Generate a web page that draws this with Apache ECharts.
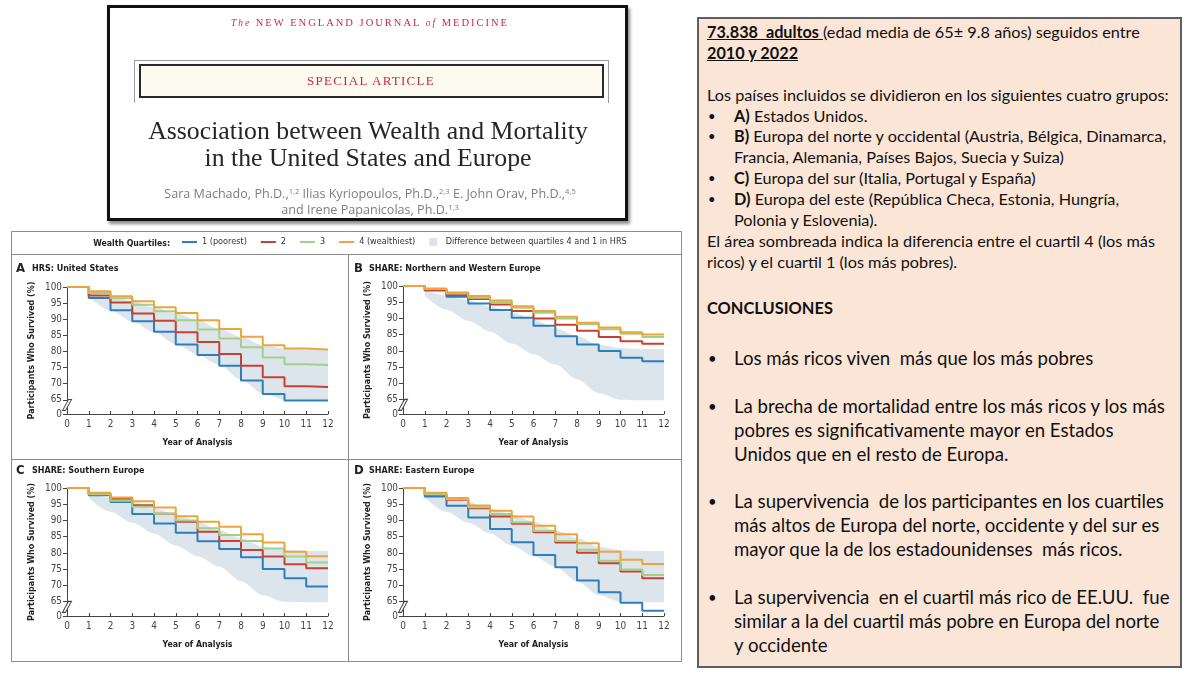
<!DOCTYPE html>
<html lang="es">
<head>
<meta charset="utf-8">
<title>Association between Wealth and Mortality</title>
<script src="https://cdn.jsdelivr.net/npm/echarts@6.0.0/dist/echarts.min.js"></script>
<style>
  html, body { margin:0; padding:0; background:#fff; }
  #page { position:relative; width:1200px; height:675px; overflow:hidden; background:#fff; }
  #chart { position:absolute; left:0; top:0; width:1200px; height:675px; }
  .abs { position:absolute; white-space:pre; }
  .c { transform: translateX(-50%); }
  #nejm { position:absolute; left:107px; top:5px; width:521px; height:216px; box-sizing:border-box; border:3px solid #111; background:#fff; box-shadow: 2px 3px 3px rgba(0,0,0,0.45); }
  #bracket { position:absolute; left:134px; top:60px; width:475px; height:43px; box-sizing:border-box; border:1px solid #9c9c9c; border-bottom:none; }
  #inner { position:absolute; left:139px; top:64px; width:465px; height:34px; box-sizing:border-box; border:2px solid #2a2a2a; background:#fdfbef; }
  .serif { font-family: 'Liberation Serif', 'DejaVu Serif', serif; }
  .red { color:#c92a40; }
  .auth { font-family: 'Open Sans', Lato, sans-serif; color:#7d7d7d; line-height:16px; }
  .auth sup { font-size:0.6em; vertical-align:0.55em; line-height:0; }
  #notes { position:absolute; left:697px; top:17px; width:485px; height:651px; box-sizing:border-box; border:2px solid #5f5f5f; background:#fbe5d6; }
  .n { font-family: Lato, 'Open Sans', sans-serif; color:#111; line-height:20px; height:20px; font-size:16px; }
  .k { font-family: Lato, 'Open Sans', sans-serif; color:#111; line-height:24px; height:24px; font-size:18px; }
  b { font-weight:700; }
</style>
</head>
<body>
<div id="page">
  <div id="chart"></div>

  <!-- journal header -->
  <div id="nejm"></div>
  <div id="bracket"></div>
  <div id="inner"></div>
  <div class="abs c serif red" id="mast" style="left:370px;top:15px;line-height:16px;font-size:10.5px"><i style="font-size:0.9em">The</i> NEW ENGLAND JOURNAL <i style="font-size:0.9em">of</i> MEDICINE</div>
  <div class="abs c serif red" id="special" style="left:371px;top:72px;line-height:18px;font-size:13px">SPECIAL ARTICLE</div>
  <div class="abs c serif" id="t1" style="left:368px;top:118px;line-height:26px;color:#262626">Association between Wealth and Mortality</div>
  <div class="abs c serif" id="t2" style="left:368px;top:145px;line-height:26px;color:#262626">in the United States and Europe</div>
  <div class="abs c auth" id="a1" style="left:370px;top:186px">Sara Machado, Ph.D.,<sup>1,2</sup> Ilias Kyriopoulos, Ph.D.,<sup>2,3</sup> E. John Orav, Ph.D.,<sup>4,5</sup></div>
  <div class="abs c auth" id="a2" style="left:370px;top:202px">and Irene Papanicolas, Ph.D.<sup>1,3</sup></div>

  <!-- notes box -->
  <div id="notes"></div>
  <div class="abs n" style="left:707px;top:21.5px"><u><b>73.838  adultos </b></u>(edad media de 65± 9.8 años) seguidos entre</div>
  <div class="abs n" style="left:707px;top:42.7px"><u><b>2010 y 2022</b></u></div>
  <div class="abs n" id="ref1" style="left:707px;top:85px">Los países incluidos se dividieron en los siguientes cuatro grupos:</div>
  <div class="abs n bul" style="left:708px;top:105.7px">•</div>
  <div class="abs n" style="left:734px;top:105.7px"><b>A)</b> Estados Unidos.</div>
  <div class="abs n bul" style="left:708px;top:126px">•</div>
  <div class="abs n" style="left:734px;top:126px"><b>B)</b> Europa del norte y occidental (Austria, Bélgica, Dinamarca,</div>
  <div class="abs n" style="left:734px;top:146.7px">Francia, Alemania, Países Bajos, Suecia y Suiza)</div>
  <div class="abs n bul" style="left:708px;top:168.3px">•</div>
  <div class="abs n" style="left:734px;top:168.3px"><b>C)</b> Europa del sur (Italia, Portugal y España)</div>
  <div class="abs n bul" style="left:708px;top:189.3px">•</div>
  <div class="abs n" style="left:734px;top:189.3px"><b>D)</b> Europa del este (República Checa, Estonia, Hungría,</div>
  <div class="abs n" style="left:734px;top:210px">Polonia y Eslovenia).</div>
  <div class="abs n" style="left:707px;top:230.7px">El área sombreada indica la diferencia entre el cuartil 4 (los más</div>
  <div class="abs n" style="left:707px;top:252.3px">ricos) y el cuartil 1 (los más pobres).</div>

  <div class="abs k" id="concl" style="left:707px;top:296.3px"><b>CONCLUSIONES</b></div>
  <div class="abs k bul" style="left:708px;top:346px">•</div>
  <div class="abs k" style="left:734px;top:346px">Los más ricos viven  más que los más pobres</div>
  <div class="abs k bul" style="left:708px;top:393.5px">•</div>
  <div class="abs k" id="ref2" style="left:734px;top:393.5px">La brecha de mortalidad entre los más ricos y los más</div>
  <div class="abs k" style="left:734px;top:417.5px">pobres es significativamente mayor en Estados</div>
  <div class="abs k" style="left:734px;top:441.5px">Unidos que en el resto de Europa.</div>
  <div class="abs k bul" style="left:708px;top:489px">•</div>
  <div class="abs k" style="left:734px;top:489px">La supervivencia  de los participantes en los cuartiles</div>
  <div class="abs k" style="left:734px;top:513px">más altos de Europa del norte, occidente y del sur es</div>
  <div class="abs k" style="left:734px;top:537px">mayor que la de los estadounidenses  más ricos.</div>
  <div class="abs k bul" style="left:708px;top:585px">•</div>
  <div class="abs k" style="left:734px;top:585px">La supervivencia  en el cuartil más rico de EE.UU.  fue</div>
  <div class="abs k" style="left:734px;top:609px">similar a la del cuartil más pobre en Europa del norte</div>
  <div class="abs k" style="left:734px;top:633px">y occidente</div>
</div>

<script>
// ---------------- DATA ----------------
const years = [0, 1, 2, 3, 4, 5, 6, 7, 8, 9, 10, 11, 12];
const yTickValues = [65, 70, 75, 80, 85, 90, 95, 100];
const yBreakLabel = '0';
const quartileNames = ['1 (poorest)', '2', '3', '4 (wealthiest)'];
const bandName = 'Difference between quartiles 4 and 1 in HRS';
const panelLetters = ['A', 'B', 'C', 'D'];
const panelTitles = ['HRS: United States', 'SHARE: Northern and Western Europe', 'SHARE: Southern Europe', 'SHARE: Eastern Europe'];

// A  HRS: United States (survival %, value held from each year to the next)
const usQ1 = [100, 96.6, 92.8, 89.4, 86.1, 82.2, 78.9, 75.6, 71.0, 66.8, 64.8, 64.8, 64.8];
const usQ2 = [100, 97.4, 95.2, 91.8, 89.5, 86.0, 82.9, 79.2, 75.6, 72.0, 69.2, 69.0, 69.0];
const usQ3 = [100, 98.1, 96.5, 94.5, 92.5, 89.7, 86.8, 84.0, 81.3, 78.1, 76.0, 75.8, 75.8];
const usQ4 = [100, 98.7, 97.1, 95.6, 93.7, 91.9, 89.7, 87.0, 84.6, 81.9, 80.9, 80.6, 80.6];
// B  SHARE: Northern and Western Europe
const nwQ1 = [100, 98.6, 96.7, 94.6, 92.6, 90.2, 87.8, 84.5, 82.0, 80.0, 77.9, 76.8, 76.8];
const nwQ2 = [100, 98.8, 97.2, 96.0, 94.3, 92.3, 90.0, 88.1, 86.2, 84.3, 83.0, 82.2, 82.2];
const nwQ3 = [100, 99.1, 97.7, 96.4, 95.0, 93.3, 91.8, 90.0, 88.2, 86.7, 85.3, 84.3, 84.3];
const nwQ4 = [100, 99.2, 98.0, 96.9, 95.5, 93.8, 92.3, 90.5, 88.7, 87.2, 85.8, 85.1, 85.1];
// C  SHARE: Southern Europe
const sQ1 = [100, 97.8, 95.7, 92.0, 89.1, 86.2, 83.6, 81.2, 78.7, 75.1, 72.2, 69.7, 69.7];
const sQ2 = [100, 98.0, 96.7, 94.7, 92.1, 89.6, 86.5, 83.7, 80.9, 78.9, 76.5, 75.3, 75.3];
const sQ3 = [100, 98.1, 96.1, 94.2, 92.1, 90.0, 87.6, 85.5, 83.7, 81.4, 78.9, 77.1, 77.1];
const sQ4 = [100, 98.5, 97.1, 95.9, 94.0, 91.3, 89.6, 88.1, 85.8, 83.2, 80.4, 79.0, 79.0];
// D  SHARE: Eastern Europe
const eQ1 = [100, 97.4, 94.5, 90.9, 87.4, 83.3, 79.4, 75.6, 71.5, 67.9, 64.7, 62.2, 62.2];
const eQ2 = [100, 97.9, 96.4, 93.8, 91.2, 89.0, 86.4, 83.2, 80.1, 76.8, 74.3, 72.2, 72.2];
const eQ3 = [100, 98.1, 96.6, 94.1, 92.0, 89.4, 86.8, 83.7, 81.0, 77.6, 74.9, 73.2, 73.2];
const eQ4 = [100, 98.5, 96.9, 94.6, 93.0, 91.2, 88.4, 85.8, 83.0, 80.4, 77.9, 76.6, 76.6];
// shaded HRS band (quartile 1 to quartile 4, United States), shown in every panel
const bandYears = [1, 2, 3, 4, 5, 6, 7, 8, 9, 10, 11, 12];
const hrsBandLow = [97.0, 92.7, 89.3, 86.0, 82.3, 79.0, 75.8, 71.3, 67.0, 65.0, 64.8, 64.8];
const hrsBandHigh = [98.7, 97.1, 95.6, 93.7, 91.9, 89.7, 87.0, 84.6, 81.9, 80.9, 80.6, 80.6];

const panelData = [[usQ1, usQ2, usQ3, usQ4], [nwQ1, nwQ2, nwQ3, nwQ4], [sQ1, sQ2, sQ3, sQ4], [eQ1, eQ2, eQ3, eQ4]];

// ---------------- STYLE / LAYOUT ----------------
const COLORS = ['#2f7ebc', '#c8402f', '#a3cf87', '#eda43b'];
const BAND = '#dce5ec';
const AXIS = '#444';
const Y_MIN = 60.6;          // bottom of the broken axis (labelled "0")
const Y_BREAK_MARK = 63.4;   // where the "//" sits on the axis

const mctx = document.createElement('canvas').getContext('2d');
function fontAvail(f) {
  const s = 'abcdefghijklmnopqrstuvwxyzABCDEFG0123456789';
  for (const base of ['monospace', 'serif']) {
    mctx.font = '40px ' + base; const a = mctx.measureText(s).width;
    mctx.font = '40px "' + f + '", ' + base; const b = mctx.measureText(s).width;
    if (Math.abs(a - b) > 0.01) return true;
  }
  return false;
}
const narrow = ['Liberation Sans Narrow', 'DejaVu Sans Condensed', 'Arial Narrow', 'Roboto Condensed'].find(fontAvail) || 'Roboto';
function calib(t, weight, target) {
  mctx.font = weight + ' 100px "' + narrow + '"';
  const s = 100 * target / mctx.measureText(t).width;
  return Math.max(7, Math.min(16, s));
}
const FS = {
  tick: calib('100', 'normal', 17),
  xName: calib('Year of Analysis', 'bold', 70),
  yName: calib('Participants Who Survived (%)', 'bold', 138),
  title: calib('SHARE: Northern and Western Europe', 'bold', 172),
  legend: calib('Difference between quartiles 4 and 1 in HRS', 'normal', 181),
  wq: calib('Wealth Quartiles:', 'bold', 77)
};

const layout = [
  { left: 67, top: 287, height: 127, lx: 16, tx: 32, ty: 269 },
  { left: 403, top: 286, height: 128, lx: 354, tx: 369, ty: 269 },
  { left: 67, top: 488, height: 128, lx: 16, tx: 32, ty: 471 },
  { left: 403, top: 488, height: 128, lx: 354, tx: 369, ty: 471 }
];
const GRID_W = 261;

const grids = [], xAxes = [], yAxes = [], series = [];
const graphic = [
  { type: 'rect', shape: { x: 11.5, y: 231.5, width: 670, height: 430 }, style: { fill: 'none', stroke: '#8c8c8c', lineWidth: 1 }, silent: true },
  { type: 'line', shape: { x1: 11.5, y1: 254.5, x2: 681.5, y2: 254.5 }, style: { stroke: '#8c8c8c', lineWidth: 1 }, silent: true },
  { type: 'line', shape: { x1: 348.5, y1: 254.5, x2: 348.5, y2: 661.5 }, style: { stroke: '#8c8c8c', lineWidth: 1 }, silent: true },
  { type: 'line', shape: { x1: 11.5, y1: 459.5, x2: 681.5, y2: 459.5 }, style: { stroke: '#8c8c8c', lineWidth: 1 }, silent: true },
  { type: 'text', x: 170, y: 244, silent: true, style: { text: 'Wealth Quartiles:', font: 'bold ' + FS.wq + 'px "' + narrow + '"', fill: '#222', align: 'right', verticalAlign: 'middle' } }
];
const yCustom = [Y_MIN].concat(yTickValues);
// band values aligned to the year categories ('-' = no band at year 0)
const bandLowByYear = years.map(y => { const k = bandYears.indexOf(y); return k < 0 ? '-' : hrsBandLow[k]; });
const bandSpanByYear = years.map(y => { const k = bandYears.indexOf(y); return k < 0 ? '-' : +(hrsBandHigh[k] - hrsBandLow[k]).toFixed(2); });

layout.forEach((L, i) => {
  grids.push({ left: L.left, top: L.top, width: GRID_W, height: L.height, containLabel: false });
  xAxes.push({
    gridIndex: i, type: 'category', data: years.map(String), boundaryGap: false,
    name: 'Year of Analysis', nameLocation: 'middle', nameGap: 24,
    nameTextStyle: { fontFamily: narrow, fontWeight: 'bold', fontSize: FS.xName, color: '#222' },
    axisLine: { lineStyle: { color: AXIS, width: 1 } },
    axisTick: { inside: true, length: 3, interval: 0, lineStyle: { color: AXIS } },
    axisLabel: { interval: 0, fontFamily: narrow, fontSize: FS.tick, color: '#444', margin: 5 },
    splitLine: { show: false }
  });
  yAxes.push({
    gridIndex: i, type: 'value', min: Y_MIN, max: 100,
    name: 'Participants Who Survived (%)', nameLocation: 'middle', nameGap: 31, nameRotate: 90,
    nameTextStyle: { fontFamily: narrow, fontWeight: 'bold', fontSize: FS.yName, color: '#222' },
    axisLine: { show: true, lineStyle: { color: AXIS, width: 1 } },
    axisTick: { show: true, inside: false, length: 4, customValues: yCustom, lineStyle: { color: AXIS } },
    axisLabel: { customValues: yCustom, fontFamily: narrow, fontSize: FS.tick, color: '#444', margin: 5,
      formatter: v => (v < 64 ? yBreakLabel : String(Math.round(v))) },
    splitLine: { show: false }
  });
  // shaded HRS band: invisible base + stacked difference
  series.push({
    type: 'line', name: '_bandBase' + i, xAxisIndex: i, yAxisIndex: i, stack: 'band' + i,
    data: bandLowByYear, symbol: 'none', smooth: 0.3, smoothMonotone: 'x', silent: true, z: 1,
    lineStyle: { width: 0, opacity: 0 }, color: BAND, animation: false
  });
  series.push({
    type: 'line', name: bandName, xAxisIndex: i, yAxisIndex: i, stack: 'band' + i,
    data: bandSpanByYear, symbol: 'none', smooth: 0.3, smoothMonotone: 'x', silent: true, z: 1,
    lineStyle: { width: 0, opacity: 0 }, areaStyle: { color: BAND, opacity: 1 }, color: BAND, animation: false
  });
  panelData[i].forEach((vals, j) => {
    const s = {
      type: 'line', name: quartileNames[j], xAxisIndex: i, yAxisIndex: i,
      data: vals, step: 'end', symbol: 'none',
      lineStyle: { width: 2, color: COLORS[j] }, color: COLORS[j], z: 2 + j, silent: true, animation: false
    };
    if (j === 0) {
      s.markPoint = {
        silent: true, animation: false, label: { show: false },
        data: [{ coord: [0, Y_BREAK_MARK], symbol: 'path://M0,11 L6,0 L9,0 L3,11 Z', symbolSize: [9, 11],
                 itemStyle: { color: '#fff', borderColor: AXIS, borderWidth: 1 } }]
      };
    }
    series.push(s);
  });
  graphic.push({ type: 'text', x: L.lx, y: L.ty, silent: true,
    style: { text: panelLetters[i], font: 'bold 13px "' + narrow + '"', fill: '#222', align: 'left', verticalAlign: 'middle' } });
  graphic.push({ type: 'text', x: L.tx, y: L.ty, silent: true,
    style: { text: panelTitles[i], font: 'bold ' + FS.title + 'px "' + narrow + '"', fill: '#222', align: 'left', verticalAlign: 'middle' } });
});

const chart = echarts.init(document.getElementById('chart'), null, { renderer: 'canvas' });
chart.setOption({
  animation: false,
  backgroundColor: 'transparent',
  textStyle: { fontFamily: narrow },
  grid: grids, xAxis: xAxes, yAxis: yAxes, series: series, graphic: graphic,
  legend: {
    left: 182, top: 237.5, padding: 0, itemGap: 14, itemWidth: 15, itemHeight: 8, symbolKeepAspect: true,
    selectedMode: false,
    textStyle: { fontFamily: narrow, fontSize: FS.legend, color: '#333' },
    data: quartileNames.map((n, j) => ({ name: n, icon: 'path://M0,0H15V2H0Z', itemStyle: { color: COLORS[j] } }))
      .concat([{ name: bandName, icon: 'path://M0,0H8V8H0Z', itemStyle: { color: BAND } }])
  }
});

// ---------------- fit the HTML text blocks to the reference widths ----------------
function sizeFor(el, target) {
  const old = el.style.fontSize;
  el.style.fontSize = '100px';
  const w = el.getBoundingClientRect().width;
  el.style.fontSize = old;
  return 100 * target / w;
}
function fitSpacing(el, target) {
  el.style.letterSpacing = '0px';
  const w = el.getBoundingClientRect().width;
  const n = el.textContent.length;
  el.style.letterSpacing = Math.max(0, (target - w) / n) + 'px';
}
const s1 = sizeFor(document.getElementById('ref1'), 462);
document.querySelectorAll('.n').forEach(e => e.style.fontSize = s1 + 'px');
const s2 = sizeFor(document.getElementById('ref2'), 431);
document.querySelectorAll('.k').forEach(e => e.style.fontSize = s2 + 'px');
const sc = sizeFor(document.getElementById('concl'), 126);
document.getElementById('concl').style.fontSize = sc + 'px';
document.querySelectorAll('.bul').forEach(e => e.style.fontSize = (parseFloat(e.style.fontSize) * 0.8) + 'px');

const st = sizeFor(document.getElementById('t1'), 440);
document.getElementById('t1').style.fontSize = st + 'px';
document.getElementById('t2').style.fontSize = st + 'px';
const sa = sizeFor(document.getElementById('a1'), 412);
document.getElementById('a1').style.fontSize = sa + 'px';
document.getElementById('a2').style.fontSize = sa + 'px';
fitSpacing(document.getElementById('mast'), 278);
fitSpacing(document.getElementById('special'), 128);
</script>
</body>
</html>
